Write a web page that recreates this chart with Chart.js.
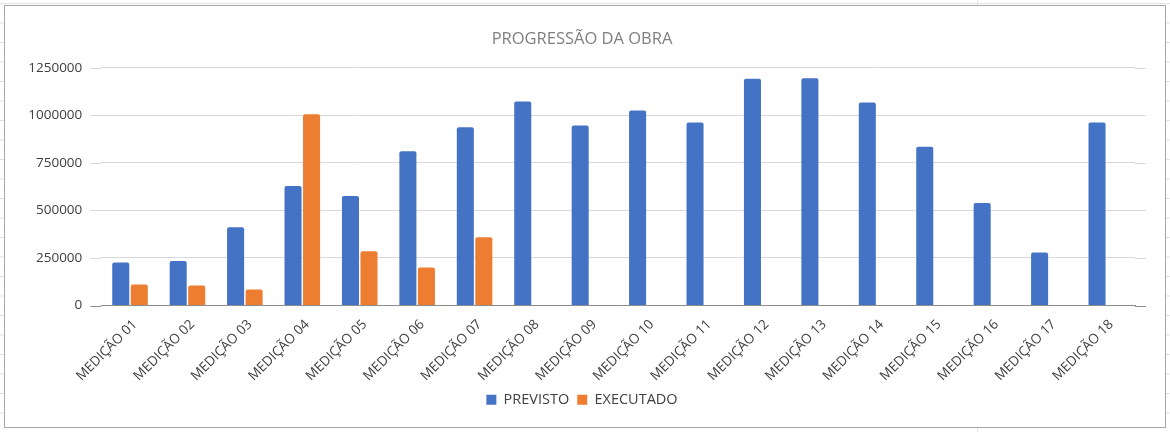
<!DOCTYPE html>
<html lang="pt-BR">
<head>
<meta charset="utf-8">
<title>Progressão da Obra</title>
<script src="https://cdn.jsdelivr.net/npm/chart.js@4.4.1/dist/chart.umd.min.js"></script>
<style>
    html, body {
        margin: 0;
        padding: 0;
        width: 1170px;
        height: 432px;
        overflow: hidden;
        background-color: #ffffff;
        /* linhas das células da planilha por trás do gráfico */
        background-image:
            linear-gradient(to right, #e2e2e2 1px, transparent 1px),
            linear-gradient(to bottom, #e2e2e2 1px, transparent 1px);
        background-size: 61px 19.5px;
        background-position: 1px 3px;
    }
    #moldura {
        position: absolute;
        left: 4px;
        top: 5px;
        width: 1160px;
        height: 421px;
        background: #ffffff;
        border: 1px solid #a6a6a6;
    }
    #graficoObra {
        display: block;
        width: 1160px;
        height: 421px;
    }
</style>
</head>
<body>
<div id="moldura">
    <canvas id="graficoObra" width="1160" height="421"></canvas>
</div>

<script>
// --- DADOS DO GRÁFICO ---
const medicoes = [
    'MEDIÇÃO 01', 'MEDIÇÃO 02', 'MEDIÇÃO 03', 'MEDIÇÃO 04', 'MEDIÇÃO 05', 'MEDIÇÃO 06',
    'MEDIÇÃO 07', 'MEDIÇÃO 08', 'MEDIÇÃO 09', 'MEDIÇÃO 10', 'MEDIÇÃO 11', 'MEDIÇÃO 12',
    'MEDIÇÃO 13', 'MEDIÇÃO 14', 'MEDIÇÃO 15', 'MEDIÇÃO 16', 'MEDIÇÃO 17', 'MEDIÇÃO 18'
];
const previsto = [
    226000, 234000, 412000, 629000, 576000, 811000,
    938000, 1073000, 946000, 1026000, 962000, 1192000,
    1195000, 1068000, 835000, 539000, 279000, 962000
];
const executado = [
    110000, 105000, 84000, 1006000, 285000, 200000,
    359000, null, null, null, null, null,
    null, null, null, null, null, null
];
const ticksY = [0, 250000, 500000, 750000, 1000000, 1250000];

document.addEventListener('DOMContentLoaded', () => {
    const ctx = document.getElementById('graficoObra');
    const fonte = '"Open Sans", "Liberation Sans", sans-serif';
    const corTexto = '#404040';
    const sobra = 11; // linhas da grade passam um pouco das barras, como no Excel

    // prolonga as linhas de grade e o eixo para os lados da área das barras
    const extensaoGrade = {
        id: 'extensaoGrade',
        beforeDatasetsDraw(chart) {
            const { ctx, chartArea, scales } = chart;
            const y = scales.y;
            ctx.save();
            ctx.lineWidth = 1;
            y.ticks.forEach(t => {
                const py = Math.round(y.getPixelForValue(t.value)) + 0.5;
                ctx.strokeStyle = t.value === 0 ? '#8c8c8c' : '#d9d9d9';
                ctx.beginPath();
                ctx.moveTo(chartArea.left - sobra, py);
                ctx.lineTo(chartArea.left, py);
                ctx.moveTo(chartArea.right, py);
                ctx.lineTo(chartArea.right + sobra, py);
                ctx.stroke();
            });
            ctx.restore();
        }
    };

    new Chart(ctx, {
        type: 'bar',
        data: {
            labels: medicoes,
            datasets: [
                {
                    label: 'PREVISTO',
                    data: previsto,
                    backgroundColor: '#4472C4',
                    borderRadius: 2,
                    borderSkipped: 'bottom'
                },
                {
                    label: 'EXECUTADO',
                    data: executado,
                    backgroundColor: '#ED7D31',
                    borderRadius: 2,
                    borderSkipped: 'bottom'
                }
            ]
        },
        options: {
            responsive: false,
            maintainAspectRatio: false,
            animation: false,
            devicePixelRatio: 1,
            datasets: {
                bar: {
                    categoryPercentage: 0.645,
                    barPercentage: 0.92
                }
            },
            layout: {
                padding: { left: 24, right: 30, top: 0, bottom: 10 }
            },
            scales: {
                x: {
                    grid: { display: false },
                    border: { color: '#8c8c8c', width: 1 },
                    afterFit: escala => {
                        escala.height = 79;
                        escala.paddingLeft = 0;
                        escala.paddingRight = 0;
                    },
                    ticks: {
                        color: corTexto,
                        font: { family: fonte, size: 13.5 },
                        minRotation: 45,
                        maxRotation: 45,
                        autoSkip: false,
                        padding: 3,
                        labelOffset: 5
                    }
                },
                y: {
                    min: 0,
                    max: 1250000,
                    afterBuildTicks: axis => {
                        axis.ticks = ticksY.map(v => ({ value: v }));
                    },
                    afterFit: escala => { escala.width = 72.3; },
                    grid: { color: '#d9d9d9', drawTicks: false },
                    border: { display: false },
                    ticks: {
                        color: corTexto,
                        font: { family: fonte, size: 13.5 },
                        padding: 8 + sobra,
                        callback: valor => String(valor)
                    }
                }
            },
            plugins: {
                title: {
                    display: true,
                    text: 'PROGRESSÃO DA OBRA',
                    color: '#7f7f7f',
                    font: { family: fonte, size: 16.5, weight: 'normal' },
                    padding: { top: 23, bottom: 19 }
                },
                legend: {
                    position: 'bottom',
                    labels: {
                        color: corTexto,
                        font: { family: fonte, size: 14.5 },
                        boxWidth: 10,
                        boxHeight: 10,
                        padding: 8
                    }
                },
                tooltip: { enabled: false }
            }
        },
        plugins: [extensaoGrade]
    });
});
</script>
</body>
</html>
